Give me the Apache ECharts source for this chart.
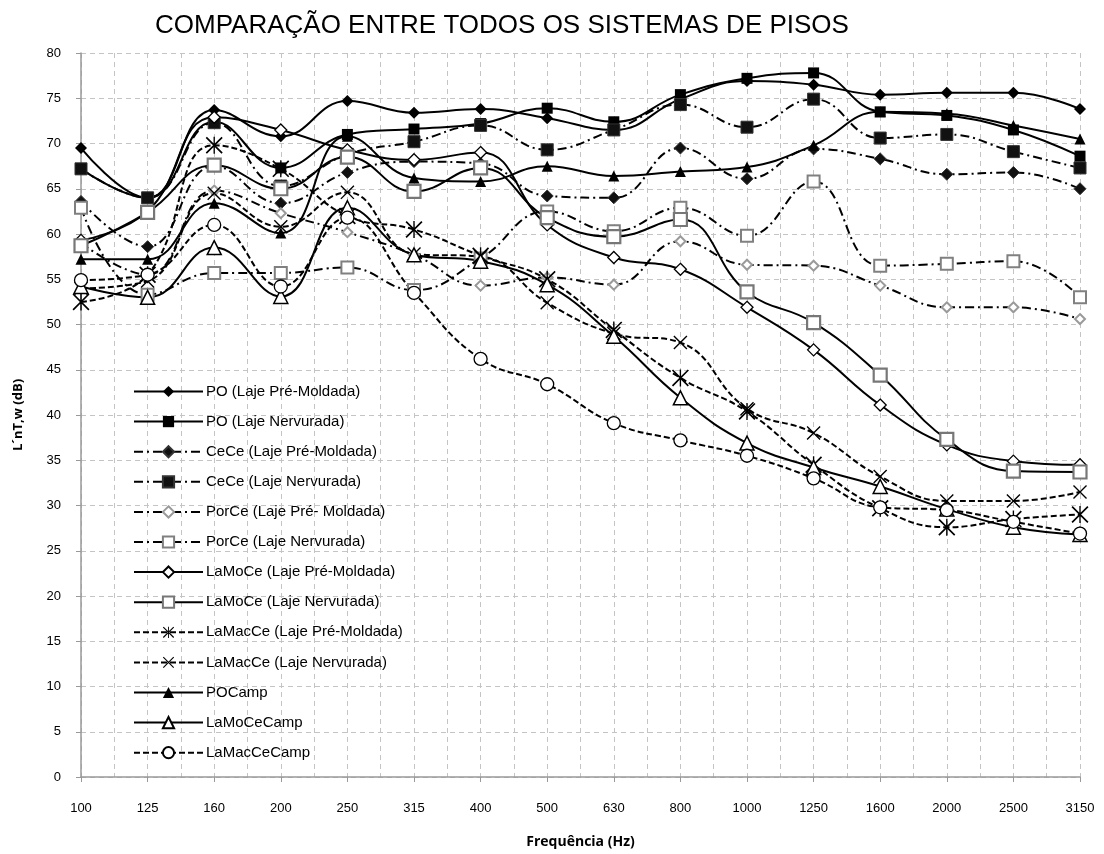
<!DOCTYPE html>
<html>
<head>
<meta charset="utf-8">
<script src="https://cdn.jsdelivr.net/npm/echarts@6/dist/echarts.min.js"></script>
<style>
  html, body { margin: 0; padding: 0; background: #fff; }
  #grafico { width: 1104px; height: 854px; }
</style>
</head>
<body>
<div id="grafico"></div>
<script>
// frequências (Hz)
var frequencias = ['100','125','160','200','250','315','400','500','630','800','1000','1250','1600','2000','2500','3150'];
var yTicks = [0, 5, 10, 15, 20, 25, 30, 35, 40, 45, 50, 55, 60, 65, 70, 75, 80];

// L'nT,w (dB)
var poPre       = [69.5,64.0,73.7,70.8,74.7,73.4,73.8,72.8,71.5,74.9,76.9,76.5,75.4,75.6,75.6,73.8];
var poNerv      = [67.2,64.0,72.4,67.3,71.0,71.6,72.2,73.9,72.4,75.4,77.2,77.8,73.5,73.1,71.5,68.6];
var ceCePre     = [63.6,58.6,67.5,63.4,66.8,68.0,67.8,64.2,64.0,69.5,66.1,69.4,68.3,66.6,66.8,65.0];
var ceCeNerv    = [67.2,64.0,72.3,65.3,68.8,70.2,72.0,69.3,71.5,74.3,71.8,74.9,70.6,71.0,69.1,67.3];
var porCePre    = [59.0,55.5,64.8,62.3,60.2,57.7,54.3,55.2,54.4,59.2,56.6,56.5,54.3,51.9,51.9,50.6];
var porCeNerv   = [62.9,53.3,55.7,55.7,56.3,53.8,57.3,62.5,60.3,62.9,59.8,65.8,56.5,56.7,57.0,53.0];
var laMoCePre   = [59.3,62.5,72.9,71.5,69.3,68.2,69.0,61.0,57.4,56.1,51.9,47.2,41.1,36.7,34.9,34.5];
var laMoCeNerv  = [58.7,62.4,67.6,65.0,68.5,64.7,67.3,61.8,59.7,61.6,53.6,50.2,44.4,37.3,33.8,33.7];
var laMacCePre  = [52.5,55.5,69.8,67.2,62.0,60.5,57.6,55.0,49.4,44.1,40.4,34.5,29.7,27.6,28.5,29.0];
var laMacCeNerv = [54.0,54.8,64.5,60.8,64.6,57.8,57.5,52.4,49.0,48.0,40.7,38.0,33.2,30.5,30.5,31.5];
var poCamp      = [57.2,57.2,63.4,60.1,70.8,66.2,65.8,67.5,66.4,66.9,67.4,69.8,73.5,73.3,72.0,70.5];
var laMoCeCamp  = [54.2,53.0,58.5,53.1,62.9,57.7,57.0,54.4,48.7,41.9,36.9,34.2,32.1,29.6,27.6,26.8];
var laMacCeCamp = [54.9,55.5,61.0,54.2,61.8,53.5,46.2,43.4,39.1,37.2,35.5,33.0,29.8,29.5,28.2,26.9];

// marcadores em X e asterisco (polígonos finos)
var X_PATH = 'path://M0,0.7L0.7,0L10,9.3L9.3,10ZM9.3,0L10,0.7L0.7,10L0,9.3Z';
var AST_PATH = 'path://M0,0.7L0.7,0L10,9.3L9.3,10ZM9.3,0L10,0.7L0.7,10L0,9.3ZM4.6,0L5.4,0L5.4,10L4.6,10Z';

var TRACO = [6, 3];            // tracejado
var TRACO_PONTO = [9, 4, 2, 4]; // traço-ponto

function serie(nome, dados, tipoLinha, simbolo, tam, corFundo, corBorda, larguraBorda) {
	return {
		name: nome,
		type: 'line',
		data: dados,
		smooth: 0.45,
		symbol: simbolo,
		symbolSize: tam,
		showAllSymbol: true,
		lineStyle: { color: '#000', width: 2, type: tipoLinha },
		itemStyle: { color: corFundo, borderColor: corBorda, borderWidth: larguraBorda },
		emphasis: { disabled: true },
		z: 3
	};
}

var myChart = echarts.init(document.getElementById('grafico'));
var option = {
	animation: false,
	backgroundColor: '#fff',
	title: {
		text: 'COMPARAÇÃO ENTRE TODOS OS SISTEMAS DE PISOS',
		left: 150,
		top: 8,
		textStyle: { fontFamily: 'Liberation Sans', fontSize: 26, fontWeight: 'normal', color: '#000' }
	},
	grid: {
		left: 81,
		right: 24,
		top: 53,
		bottom: 76
	},
	legend: {
		orient: 'vertical',
		left: 128,
		top: 379,
		itemWidth: 69,
		itemHeight: 14,
		itemGap: 15.1,
		textStyle: { fontFamily: 'Liberation Sans', fontSize: 15, color: '#000', padding: [0, 0, 0, -2] },
		data: ['PO (Laje Pré-Moldada)','PO (Laje Nervurada)','CeCe (Laje Pré-Moldada)','CeCe (Laje Nervurada)',
			'PorCe (Laje Pré- Moldada)','PorCe (Laje Nervurada)','LaMoCe (Laje Pré-Moldada)','LaMoCe (Laje Nervurada)',
			'LaMacCe (Laje Pré-Moldada)','LaMacCe (Laje Nervurada)','POCamp','LaMoCeCamp','LaMacCeCamp']
	},
	xAxis: [
		{
			type: 'category',
			boundaryGap: false,
			data: frequencias,
			name: 'Frequência (Hz)',
			nameLocation: 'middle',
			nameGap: 58,
			nameTextStyle: { fontFamily: 'Open Sans', fontWeight: 'bold', fontSize: 14, color: '#000' },
			axisLine: { lineStyle: { color: '#999', width: 1.5 } },
			axisTick: { show: true, length: 5, lineStyle: { color: '#999' } },
			axisLabel: { margin: 25, fontFamily: 'Liberation Sans', fontSize: 13, color: '#000' },
			splitLine: { show: false }
		},
		{
			// só para as linhas de grade verticais (categorias e meios)
			type: 'value',
			min: 0,
			max: 15,
			interval: 0.5,
			axisLine: { show: false },
			axisTick: { show: false },
			axisLabel: { show: false },
			splitLine: { show: true, lineStyle: { color: '#c4c4c4', type: [5, 4], width: 1 } }
		}
	],
	yAxis: {
		type: 'value',
		min: 0,
		max: 80,
		interval: 5,
		name: 'L´nT,w (dB)',
		nameLocation: 'middle',
		nameGap: 56,
		nameRotate: 90,
		nameTextStyle: { fontFamily: 'Open Sans', fontWeight: 'bold', fontSize: 13, color: '#000' },
		axisLine: { show: true, lineStyle: { color: '#999', width: 1.5 } },
		axisTick: { show: true, length: 5, lineStyle: { color: '#999' } },
		axisLabel: {
			margin: 20,
			fontFamily: 'Liberation Sans',
			fontSize: 13,
			color: '#000',
			formatter: function (v) { return yTicks.indexOf(v) >= 0 ? String(v) : ''; }
		},
		splitLine: { show: true, lineStyle: { color: '#c4c4c4', type: [5, 4], width: 1 } }
	},
	series: [
		serie('PO (Laje Pré-Moldada)', poPre, 'solid', 'diamond', 12, '#000', '#000', 0),
		serie('PO (Laje Nervurada)', poNerv, 'solid', 'rect', 11, '#000', '#000', 0),
		serie('CeCe (Laje Pré-Moldada)', ceCePre, TRACO_PONTO, 'diamond', 12, '#111', '#333', 1),
		serie('CeCe (Laje Nervurada)', ceCeNerv, TRACO_PONTO, 'rect', 12, '#111', '#333', 1),
		serie('PorCe (Laje Pré- Moldada)', porCePre, TRACO_PONTO, 'diamond', 10, '#fff', '#9a9a9a', 2),
		serie('PorCe (Laje Nervurada)', porCeNerv, TRACO_PONTO, 'rect', 12, '#fff', '#808080', 2),
		serie('LaMoCe (Laje Pré-Moldada)', laMoCePre, 'solid', 'diamond', 12, '#fff', '#000', 1.3),
		serie('LaMoCe (Laje Nervurada)', laMoCeNerv, 'solid', 'rect', 13, '#fff', '#777', 2.2),
		serie('LaMacCe (Laje Pré-Moldada)', laMacCePre, TRACO, AST_PATH, 17, '#000', '#000', 0),
		serie('LaMacCe (Laje Nervurada)', laMacCeNerv, TRACO, X_PATH, 14, '#000', '#000', 0),
		serie('POCamp', poCamp, 'solid', 'triangle', 11, '#000', '#000', 0),
		serie('LaMoCeCamp', laMoCeCamp, 'solid', 'triangle', 14, '#fff', '#000', 1.5),
		serie('LaMacCeCamp', laMacCeCamp, TRACO, 'circle', 13, '#fff', '#000', 1.3)
	]
};

myChart.setOption(option);
window.onresize = myChart.resize;
</script>
</body>
</html>
